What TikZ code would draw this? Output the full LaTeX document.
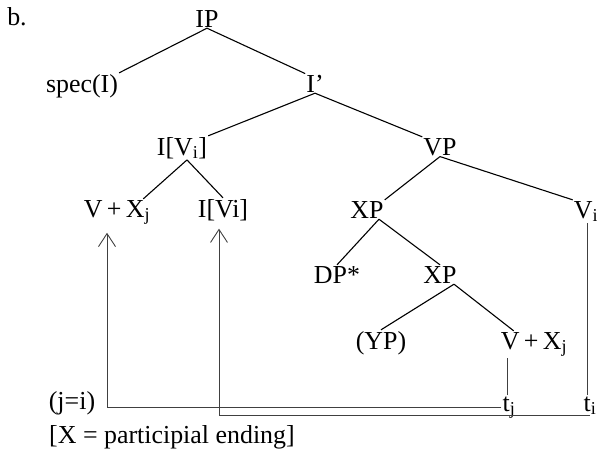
\documentclass[tikz,border=0pt]{standalone}
\usepackage{fontspec}
\setmainfont{Liberation Serif}
\usepackage{tikz}
\usetikzlibrary{arrows.meta}

\begin{document}
\begin{tikzpicture}[cat/.style={anchor=base,inner sep=1bp,font=\fontsize{26}{30}\selectfont},
  branch/.style={line width=1.1bp},
  trace/.style={line width=0.9bp,black!75},
  >={Straight Barb[length=13bp,width=17bp]}]
\useasboundingbox (0bp,0bp) rectangle (597bp,-455bp);

\node (b) at (17bp,-25bp)[cat] {b.};
\node (IP) at (207bp,-27bp)[cat] {IP};
\node (spec) at (82bp,-92bp)[cat] {spec(I)};
\node (Ibar) at (315bp,-92bp)[cat] {I'};
\node (IVi) at (182bp,-155bp)[cat] {I[V\textsubscript{i}]};
\node (VP) at (440bp,-155bp)[cat] {VP};
\node (VX1) at (117bp,-217bp)[cat] {V\,+\,X\textsubscript{j}};
\node (IVi2) at (223bp,-217bp)[cat] {I[Vi]};
\node (XP1) at (367bp,-218bp)[cat] {XP};
\node (Vi) at (586bp,-218bp)[cat] {V\textsubscript{i}};
\node (DP) at (337bp,-283bp)[cat] {DP*};
\node (XP2) at (440bp,-283bp)[cat] {XP};
\node (YP) at (381bp,-349bp)[cat] {(YP)};
\node (VX2) at (534bp,-349bp)[cat] {V\,+\,X\textsubscript{j}};
\node (tj) at (509bp,-411bp)[cat] {t\textsubscript{j}};
\node (ti) at (590bp,-411bp)[cat] {t\textsubscript{i}};
\node (ji) at (72bp,-409bp)[cat] {(j=i)};
\node (note) at (48bp,-443bp)[cat,anchor=base west] {[X = participial ending]};

\draw [branch] (IP.south) -- (spec.north east);
\draw [branch] (IP.south) -- (Ibar.north west);
\draw [branch] (Ibar.south) -- (IVi.north east);
\draw [branch] (Ibar.south) -- (VP.north west);
\draw [branch] ([xshift=5bp]IVi.south) -- ([xshift=-8bp]VX1.north east);
\draw [branch] ([xshift=5bp]IVi.south) -- (IVi2.north);
\draw [branch] (VP.south) -- (XP1.north east);
\draw [branch] (VP.south) -- (Vi.north west);
\draw [branch] ([xshift=12bp]XP1.south) -- (DP.north);
\draw [branch] ([xshift=12bp]XP1.south) -- (XP2.north);
\draw [branch] ([xshift=14bp]XP2.south) -- (YP.north);
\draw [branch] ([xshift=14bp]XP2.south) -- ([xshift=14bp]VX2.north west);

\draw [trace] ([xshift=-2bp]tj.north) -- ([xshift=-2bp]tj.north |- VX2.south);
\draw [trace] ([xshift=-3bp]ti.north) -- ([xshift=-3bp]ti.north |- Vi.south);
\draw [trace,->] (tj.west) -| ([xshift=-10bp,yshift=-7bp]VX1.south);
\draw [trace,->] (ti.south) -| ([xshift=-4bp,yshift=-7bp]IVi2.south);
\end{tikzpicture}
\end{document}
